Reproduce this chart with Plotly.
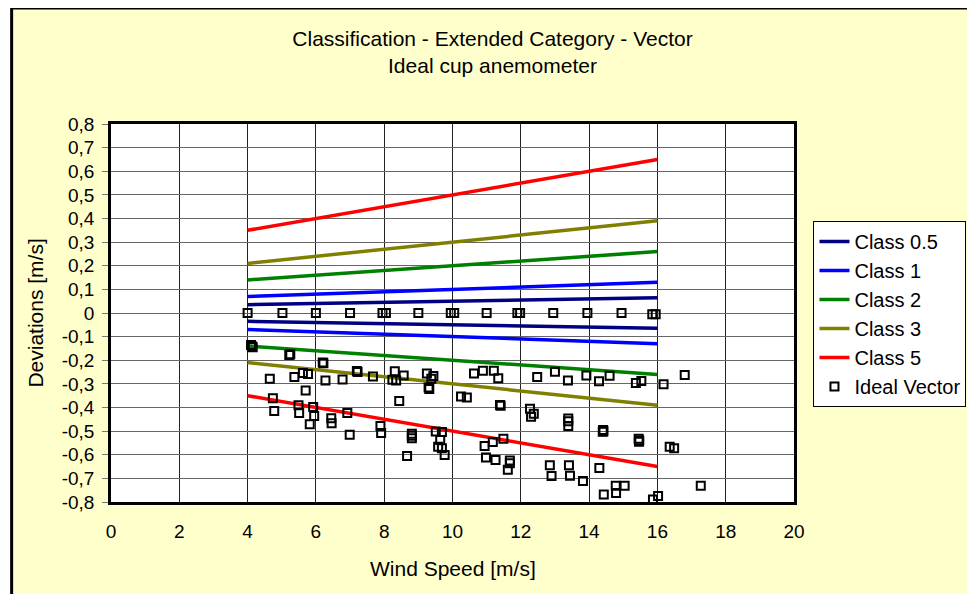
import plotly.graph_objects as go

# ---- data ----
speed_ends = [4, 16]
class05_up = [0.035, 0.065]
class05_lo = [-0.035, -0.065]
class1_up = [0.07, 0.13]
class1_lo = [-0.07, -0.13]
class2_up = [0.14, 0.26]
class2_lo = [-0.14, -0.26]
class3_up = [0.21, 0.39]
class3_lo = [-0.21, -0.39]
class5_up = [0.35, 0.65]
class5_lo = [-0.35, -0.65]

ideal_x = [4.0, 5.02, 6.0, 7.0, 7.95, 8.05, 9.0, 9.95, 10.05, 11.0, 11.9, 11.98, 12.95, 13.95, 14.95, 15.85, 15.95,
           4.10, 4.13, 4.15, 5.22, 5.25, 4.65, 6.2, 6.22, 5.37, 5.62, 5.77, 6.28, 6.78, 7.2, 7.22, 5.70, 4.74, 4.78,
           5.49, 5.51, 5.92, 5.95, 5.82, 6.45, 6.46, 6.92, 6.99, 7.67, 8.31, 8.24, 8.35, 8.57, 9.25, 9.44, 9.38,
           9.30, 9.32, 8.44, 10.63, 10.25, 10.42, 7.89, 7.91, 8.81, 8.81, 8.81, 8.67, 9.51, 9.69, 9.64, 9.58, 9.69,
           9.77, 10.89, 11.21, 11.34, 12.48, 13.0, 13.38, 13.92, 14.29, 11.39, 11.41, 12.27, 12.3, 12.38, 13.39,
           13.39, 13.39, 11.49, 11.18, 10.94, 10.98, 11.26, 11.68, 11.68, 11.62, 12.85, 13.41, 12.9, 13.44, 13.82,
           14.3, 14.6, 15.37, 15.53, 16.18, 16.8, 14.41, 14.42, 14.4, 15.45, 15.47, 15.46, 16.36, 16.49, 14.78,
           15.04, 14.79, 14.43, 15.87, 16.02, 17.27]
ideal_y = [0, 0, 0, 0, 0, 0, 0, 0, 0, 0, 0, 0, 0, 0, 0, -0.005, -0.005,
           -0.135, -0.142, -0.145, -0.178, -0.175, -0.278, -0.21, -0.213, -0.271, -0.254, -0.258, -0.286, -0.281,
           -0.245, -0.25, -0.328, -0.361, -0.415, -0.391, -0.423, -0.398, -0.436, -0.471, -0.446, -0.467, -0.423,
           -0.515, -0.269, -0.247, -0.283, -0.286, -0.265, -0.256, -0.267, -0.278, -0.315, -0.322, -0.372, -0.256,
           -0.353, -0.358, -0.478, -0.508, -0.511, -0.52, -0.53, -0.605, -0.502, -0.504, -0.538, -0.566, -0.572,
           -0.601, -0.244, -0.244, -0.276, -0.271, -0.249, -0.286, -0.265, -0.289, -0.389, -0.393, -0.405, -0.439,
           -0.426, -0.447, -0.458, -0.478, -0.532, -0.546, -0.563, -0.612, -0.622, -0.624, -0.636, -0.663, -0.644,
           -0.644, -0.69, -0.689, -0.711, -0.656, -0.266, -0.296, -0.288, -0.302, -0.262, -0.495, -0.5, -0.503,
           -0.532, -0.54, -0.545, -0.566, -0.572, -0.731, -0.731, -0.762, -0.768, -0.789, -0.775, -0.731]

y_ticks = [0.8, 0.7, 0.6, 0.5, 0.4, 0.3, 0.2, 0.1, 0, -0.1, -0.2, -0.3, -0.4, -0.5, -0.6, -0.7, -0.8]
y_tick_labels = ["0,8", "0,7", "0,6", "0,5", "0,4", "0,3", "0,2", "0,1", "0",
                 "-0,1", "-0,2", "-0,3", "-0,4", "-0,5", "-0,6", "-0,7", "-0,8"]

classes = [
    ("Class 0.5", class05_up, class05_lo, "#000080"),
    ("Class 1", class1_up, class1_lo, "#0000FF"),
    ("Class 2", class2_up, class2_lo, "#008000"),
    ("Class 3", class3_up, class3_lo, "#808000"),
    ("Class 5", class5_up, class5_lo, "#FF0000"),
]

FONT = "Liberation Sans, Arial, sans-serif"

fig = go.Figure()
for name, up, lo, col in classes:
    fig.add_trace(go.Scatter(x=speed_ends, y=up, mode="lines", name=name, legendgroup=name,
                             line=dict(color=col, width=3.5)))
    fig.add_trace(go.Scatter(x=speed_ends, y=lo, mode="lines", name=name, legendgroup=name,
                             showlegend=False, line=dict(color=col, width=3.5)))

fig.add_trace(go.Scatter(x=ideal_x, y=ideal_y, mode="markers", name="Ideal Vector",
                         marker=dict(symbol="square-open", size=8, color="black",
                                     line=dict(width=2, color="black"))))

# page offset introduced by the default body margin of the html page
OFF = 8
L, R, T, B = 110.5, 794.5, 124, 502
PW, PH = R - L, B - T


def px_x(p):
    return (p - L) / PW


def px_y(p):
    return (B - p) / PH


fig.update_layout(
    width=975, height=594,
    margin=dict(l=L - OFF, r=975 - (R - OFF), t=T - OFF, b=594 - (B - OFF)),
    paper_bgcolor="white",
    plot_bgcolor="rgba(0,0,0,0)",
    font=dict(family=FONT, size=19, color="black"),
    title=dict(text="Classification - Extended Category - Vector<br>Ideal cup anemometer",
               x=(492.5 - OFF) / 975, xref="container", xanchor="center",
               y=1 - (46 - OFF) / 594, yref="container", yanchor="top",
               font=dict(family=FONT, size=21, color="black")),
    showlegend=True,
    legend=dict(x=px_x(814), y=px_y(221), xanchor="left", yanchor="top",
                bgcolor="white", bordercolor="black", borderwidth=1,
                font=dict(family=FONT, size=20, color="black"),
                tracegroupgap=0, itemwidth=30),
    shapes=[
        dict(type="rect", xref="paper", yref="paper", layer="below",
             x0=px_x(11), x1=px_x(990), y0=px_y(610), y1=px_y(8),
             fillcolor="#FFFFCC", line=dict(color="black", width=3)),
        dict(type="rect", xref="paper", yref="paper", layer="below",
             x0=0, x1=1, y0=0, y1=1, fillcolor="white", line=dict(width=0)),
    ],
    annotations=[
        dict(text="Wind Speed [m/s]", xref="paper", yref="paper", x=0.5, y=px_y(568),
             xanchor="center", yanchor="middle", showarrow=False,
             font=dict(family=FONT, size=21, color="black")),
        dict(text="Deviations [m/s]", xref="paper", yref="paper", x=px_x(34), y=0.5,
             xanchor="center", yanchor="middle", showarrow=False, textangle=-90,
             font=dict(family=FONT, size=21, color="black")),
    ],
)

fig.update_xaxes(range=[0, 20], tick0=0, dtick=2, showgrid=True, gridcolor="#222222", gridwidth=1,
                 zeroline=False, showline=True, linecolor="black", linewidth=2.5, mirror=True,
                 ticks="outside", ticklen=10, tickcolor="rgba(0,0,0,0)",
                 tickfont=dict(family=FONT, size=19, color="black"), fixedrange=True)
fig.update_yaxes(range=[-0.8, 0.8], tickmode="array", tickvals=y_ticks, ticktext=y_tick_labels,
                 showgrid=True, gridcolor="#666666", gridwidth=1, zeroline=False,
                 showline=True, linecolor="black", linewidth=2.5, mirror=True,
                 ticks="outside", ticklen=6, tickcolor="#777777", ticklabelstandoff=4,
                 tickfont=dict(family=FONT, size=19, color="black"), fixedrange=True)

fig.write_html("out.html")
